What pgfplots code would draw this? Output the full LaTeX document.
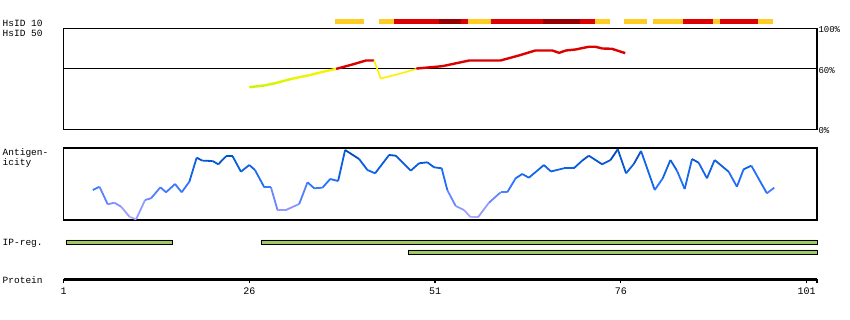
\documentclass[border=0pt]{standalone}
\usepackage{fontspec}
\setmainfont{Liberation Mono}
\usepackage{pgfplots}
\pgfplotsset{compat=1.18}
\definecolor{hred}{RGB}{220,0,0}
\definecolor{hdark}{RGB}{150,0,0}
\definecolor{hyel}{RGB}{255,204,34}
\definecolor{ipg}{RGB}{160,200,100}
\begin{document}
\begin{tikzpicture}[x=1pt,y=1pt]
\useasboundingbox (0,0) rectangle (850,320);
\pgfplotsset{every axis/.append style={scale only axis, width=753.5pt, xmin=1, xmax=102.41, anchor=south west,
  /pgf/number format/assume math mode=true}}
% ---------- HsID 50 panel (+ HsID 10 track) ----------
\begin{axis}[at={(63.5pt,190.5pt)}, height=101pt, ymin=0, ymax=100, clip=false,
  xtick=\empty, ytick={0,60,100}, yticklabels={0\%,60\%,100\%}, yticklabel pos=right,
  ytick style={draw=none}, major tick length=0pt,
  yticklabel style={anchor=west, xshift=-2pt, yshift=-1.5pt, font=\fontsize{9}{10}\selectfont},
  axis line style={line width=1.1pt},
  colormap={hs}{rgb255=(200,245,0) rgb255=(235,245,0) rgb255=(255,240,0)},
  point meta min=42, point meta max=60]
\addplot[black, line width=1.1pt] coordinates {(1,60) (102.41,60)};
% HsID 50 line
\addplot[mesh, point meta=y, line width=2.4pt] coordinates {
(26.0,41.9) (28.0,43.5) (29.6,46.0) (31.6,50.0) (34.1,53.8) (36.3,57.8) (37.7,60)};
\addplot[hred, line width=2.4pt] coordinates {
(37.7,60) (37.9,60.4) (39.9,64.4) (41.7,68.3) (42.8,68.3)};
\addplot[color={rgb,255:red,255;green,240;blue,0}, line width=1.6pt] coordinates {
(42.8,68.3) (43.7,50.5) (46.2,55.1) (48.5,60)};
\addplot[hred, line width=2.4pt] coordinates {
(48.5,60) (48.6,60.4) (52.0,62.7) (55.6,68.3) (59.8,68.3) (62.3,73.3) (64.5,78.2)
(66.8,78.2) (67.7,75.9) (68.6,78.2) (69.9,79.2) (71.7,81.9) (72.6,81.9) (73.5,80.2)
(74.8,79.9) (76.6,75.6)};
% HsID 10 track
\addplot[hyel, line width=5pt] coordinates {(37.5,107.4) (41.5,107.4)};
\addplot[hyel, line width=5pt] coordinates {(43.5,107.4) (45.5,107.4)};
\addplot[hred, line width=5pt] coordinates {(45.5,107.4) (51.5,107.4)};
\addplot[hdark, line width=5pt] coordinates {(51.5,107.4) (54.5,107.4)};
\addplot[hred, line width=5pt] coordinates {(54.5,107.4) (55.5,107.4)};
\addplot[hyel, line width=5pt] coordinates {(55.5,107.4) (58.5,107.4)};
\addplot[hred, line width=5pt] coordinates {(58.5,107.4) (65.5,107.4)};
\addplot[hdark, line width=5pt] coordinates {(65.5,107.4) (70.5,107.4)};
\addplot[hred, line width=5pt] coordinates {(70.5,107.4) (72.5,107.4)};
\addplot[hyel, line width=5pt] coordinates {(72.5,107.4) (74.5,107.4)};
\addplot[hyel, line width=5pt] coordinates {(76.4,107.4) (79.5,107.4)};
\addplot[hyel, line width=5pt] coordinates {(80.4,107.4) (84.4,107.4)};
\addplot[hred, line width=5pt] coordinates {(84.4,107.4) (88.4,107.4)};
\addplot[hyel, line width=5pt] coordinates {(88.4,107.4) (89.4,107.4)};
\addplot[hred, line width=5pt] coordinates {(89.4,107.4) (94.5,107.4)};
\addplot[hyel, line width=5pt] coordinates {(94.5,107.4) (96.5,107.4)};
\end{axis}
% ---------- Antigenicity panel (+ IP-reg bars) ----------
\begin{axis}[at={(63.5pt,100pt)}, height=72pt, ymin=0, ymax=72, clip=false,
  xtick=\empty, ytick=\empty, axis line style={line width=1.1pt},
  colormap={ag}{rgb255=(185,175,255) rgb255=(120,140,255) rgb255=(40,115,255) rgb255=(10,95,225) rgb255=(0,65,170)},
  point meta min=0, point meta max=72]
\addplot[mesh, point meta=y, line width=1.8pt] coordinates {
(4.94,30) (5.84,33.3) (6.95,15.7) (7.85,17.3) (8.76,13.3) (9.87,3.3) (10.77,0.7)
(11.98,20) (12.79,21.7) (14.04,32.7) (14.80,27.7) (16.01,36) (16.90,27.7) (17.94,38.3)
(18.92,62.3) (19.72,59.3) (21.07,59) (21.83,55.7) (22.87,63.7) (23.76,63.7) (24.88,48.3)
(26.0,55) (26.77,50) (28.02,32.7) (28.92,32.7) (29.80,10) (30.93,10) (32.72,16)
(33.84,37.7) (34.74,31.7) (35.85,32.3) (36.89,41) (37.96,39) (38.90,70) (40.78,61)
(41.90,50) (42.94,46.7) (44.82,65) (45.72,64.3) (47.73,49.3) (48.85,56.7) (49.97,57.7)
(50.87,52.7) (51.90,51.7) (52.65,30) (53.78,14) (54.90,10) (55.80,2.7) (56.78,2.7)
(58.26,17.3) (59.83,27.7) (60.72,27.7) (61.85,41.7) (62.74,46) (63.63,42.3) (64.98,50.7)
(65.65,55) (66.6,48.5) (68.34,51.7) (69.68,51.7) (70.80,59.3) (71.70,64.3) (73.49,55.7)
(74.62,60) (75.60,70.7) (76.71,46.7) (77.75,56) (78.73,69) (80.57,30) (81.65,41.7)
(82.68,60) (83.57,49.3) (84.60,31) (85.59,61) (86.48,57.3) (87.60,41.7) (88.63,60)
(90.52,48.3) (91.63,33.3) (92.53,50.7) (93.57,54.3) (95.66,26.7) (96.66,32.3)};
% IP-reg bars
\addplot[draw=black, fill=ipg, line width=0.8pt] coordinates {(1.43,-20) (15.6,-20) (15.6,-24.7) (1.43,-24.7) (1.43,-20)};
\addplot[draw=black, fill=ipg, line width=0.8pt] coordinates {(27.6,-20) (102.41,-20) (102.41,-24.7) (27.6,-24.7) (27.6,-20)};
\addplot[draw=black, fill=ipg, line width=0.8pt] coordinates {(47.4,-30) (102.41,-30) (102.41,-34.7) (47.4,-34.7) (47.4,-30)};
\end{axis}
% ---------- Protein axis ----------
\begin{axis}[at={(63.5pt,40.5pt)}, height=1pt, ymin=0, ymax=1,
  axis x line*=bottom, axis y line=none, x axis line style={line width=3pt},
  xtick={1,26,51,76,101}, extra x ticks={102.41}, extra x tick labels={},
  tick align=outside, major tick length=4pt, xtick style={line width=1.4pt, black},
  xticklabel style={font=\fontsize{10}{11}\selectfont, yshift=-1pt}]
\addplot[draw=none] coordinates {(1,0) (102.41,0)};
\end{axis}
% ---------- Labels ----------
\begin{scope}[every node/.style={anchor=west, inner sep=0pt, font=\fontsize{9.5}{10}\selectfont}]
\node at (2.5,297) {HsID 10};
\node at (2.5,286.5) {HsID 50};
\node at (2.5,167) {Antigen-};
\node at (2.5,157) {icity};
\node at (2.5,76.7) {IP-reg.};
\node at (2.5,40) {Protein};
\end{scope}
\end{tikzpicture}
\end{document}
